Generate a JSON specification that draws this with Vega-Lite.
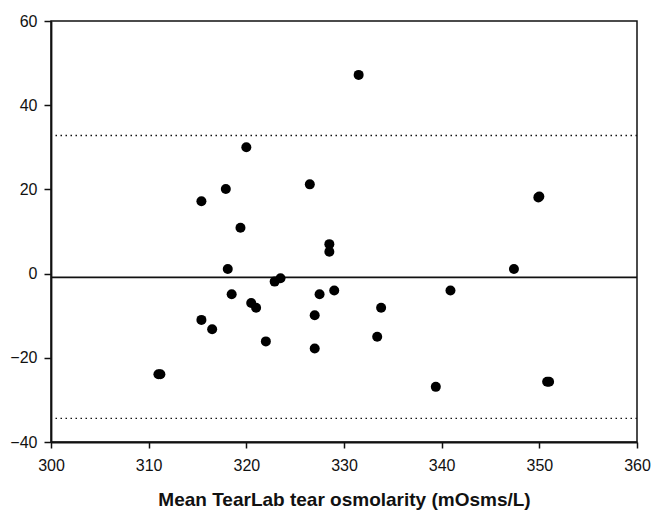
{
  "$schema": "https://vega.github.io/schema/vega-lite/v6.json",
  "autosize": "none",
  "padding": {"left": 51, "top": 21, "right": 23, "bottom": 69},
  "width": 586,
  "height": 421,
  "background": "white",
  "config": {
    "view": {"stroke": "#111", "strokeWidth": 1.5},
    "font": "Liberation Sans"
  },
  "datasets": {
    "pts": [
      {"mean": 311.0, "diff": -23.9},
      {"mean": 311.2, "diff": -23.9},
      {"mean": 315.4, "diff": 17.2},
      {"mean": 317.9, "diff": 20.1},
      {"mean": 320.0, "diff": 30.0},
      {"mean": 319.4, "diff": 10.9},
      {"mean": 326.5, "diff": 21.2},
      {"mean": 331.5, "diff": 47.2},
      {"mean": 349.9, "diff": 18.1},
      {"mean": 350.0, "diff": 18.3},
      {"mean": 328.5, "diff": 7.0},
      {"mean": 328.5, "diff": 5.2},
      {"mean": 318.1, "diff": 1.1},
      {"mean": 318.5, "diff": -4.9},
      {"mean": 315.4, "diff": -11.0},
      {"mean": 316.5, "diff": -13.2},
      {"mean": 320.5, "diff": -7.0},
      {"mean": 321.0, "diff": -8.1},
      {"mean": 322.0, "diff": -16.1},
      {"mean": 322.9, "diff": -1.9},
      {"mean": 323.5, "diff": -1.1},
      {"mean": 327.0, "diff": -9.9},
      {"mean": 327.0, "diff": -17.8},
      {"mean": 327.5, "diff": -4.9},
      {"mean": 329.0, "diff": -4.0},
      {"mean": 333.8, "diff": -8.1},
      {"mean": 333.4, "diff": -15.0},
      {"mean": 339.4, "diff": -26.9},
      {"mean": 340.9, "diff": -4.0},
      {"mean": 347.4, "diff": 1.1},
      {"mean": 350.8, "diff": -25.7},
      {"mean": 351.0, "diff": -25.7}
    ],
    "limits": [
      {"kind": "upper", "value": 32.8},
      {"kind": "lower", "value": -34.4}
    ],
    "meanline": [
      {"kind": "mean", "value": -0.9}
    ]
  },
  "layer": [
    {
      "data": {"name": "limits"},
      "mark": {"type": "rule", "strokeDash": [1.5, 3.5], "strokeWidth": 1.4, "color": "#111"},
      "encoding": {"y": {"field": "value", "type": "quantitative"}}
    },
    {
      "data": {"name": "meanline"},
      "mark": {"type": "rule", "strokeWidth": 1.6, "color": "#111"},
      "encoding": {"y": {"field": "value", "type": "quantitative"}}
    },
    {
      "data": {"name": "pts"},
      "mark": {"type": "point", "filled": true, "shape": "circle", "size": 100, "color": "#000", "opacity": 1},
      "encoding": {
        "x": {
          "field": "mean", "type": "quantitative",
          "scale": {"domain": [300, 360], "nice": false, "zero": false},
          "axis": {
            "values": [300, 310, 320, 330, 340, 350, 360],
            "grid": false,
            "title": "Mean TearLab tear osmolarity (mOsms/L)",
            "titleFont": "Liberation Sans", "titleFontSize": 19, "titleFontWeight": "bold",
            "titleColor": "#111", "titlePadding": 17,
            "labelFont": "Liberation Sans", "labelFontSize": 16, "labelColor": "#111",
            "labelPadding": 9, "labelFlush": false,
            "domainColor": "#111", "domainWidth": 1.8,
            "tickColor": "#111", "tickWidth": 1.5, "tickSize": 6
          }
        },
        "y": {
          "field": "diff", "type": "quantitative",
          "scale": {"domain": [-40, 60], "nice": false, "zero": false},
          "axis": {
            "values": [-40, -20, 0, 20, 40, 60],
            "grid": false,
            "title": null,
            "labelFont": "Liberation Sans", "labelFontSize": 16, "labelColor": "#111",
            "labelPadding": 7,
            "domainColor": "#111", "domainWidth": 1.8,
            "tickColor": "#111", "tickWidth": 1.5, "tickSize": 7
          }
        }
      }
    }
  ]
}
